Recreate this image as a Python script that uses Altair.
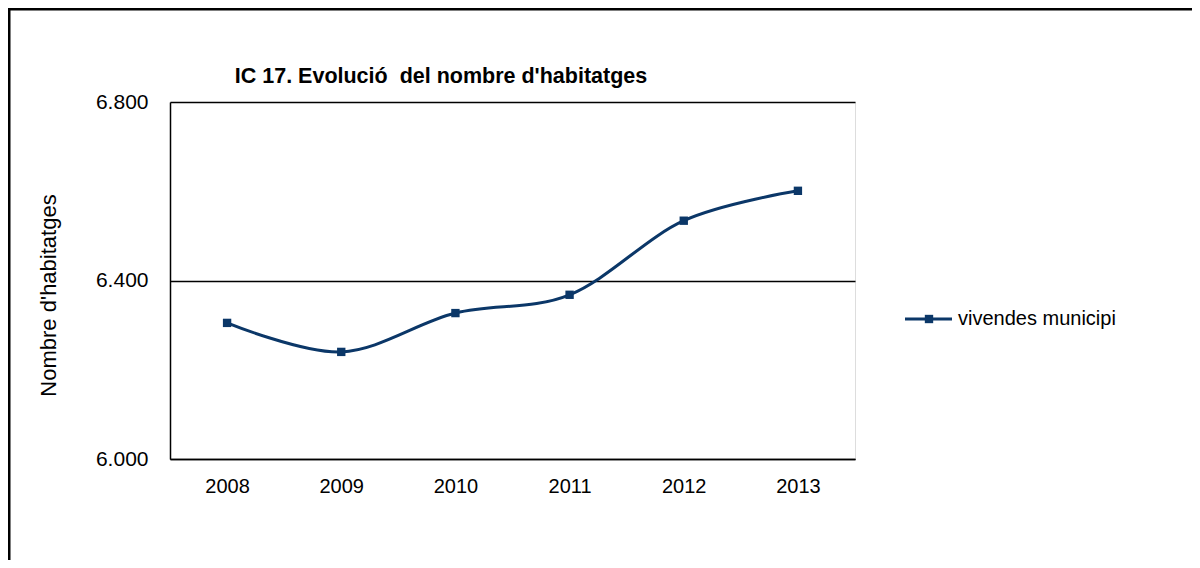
import altair as alt
import pandas as pd

years = ["2008", "2009", "2010", "2011", "2012", "2013"]
values = [6305, 6240, 6327, 6368, 6534, 6601]
series_name = "vivendes municipi"
y_ticks = [6000, 6400, 6800]
chart_title = "IC 17. Evolució\u00a0 del nombre d'habitatges"
y_title = "Nombre d'habitatges"

df = pd.DataFrame({"year": years, "value": values, "series": series_name})

W, H = 685, 357
LINE = "#0B3768"
FONT = "Liberation Sans"

x_enc = alt.X("year:O", scale=alt.Scale(type="point", padding=0.5),
              axis=alt.Axis(title=None, labelAngle=0, labelFontSize=20, labelFont=FONT,
                            labelColor="#000000", ticks=False, labelPadding=17,
                            domainColor="#000000", domainWidth=1.5, grid=False))
y_enc = alt.Y("value:Q", scale=alt.Scale(domain=[6000, 6800], nice=False, zero=False),
              axis=alt.Axis(values=y_ticks, title=y_title, titleFont=FONT, titleFontSize=22,
                            titleFontWeight="normal", titleColor="#000000",
                            titleX=-122, titleY=193, titleAngle=270, titleBaseline="middle",
                            titleAlign="center",
                            labelExpr="replace(format(datum.value, ',.0f'), ',', '.')",
                            labelFontSize=21, labelFont=FONT, labelColor="#000000",
                            ticks=False, labelPadding=22,
                            domainColor="#000000", domainWidth=1.5,
                            grid=True, gridColor="#000000", gridWidth=1.5))

base = alt.Chart(df)
line = base.mark_line(color=LINE, strokeWidth=3, interpolate="cardinal").encode(x=x_enc, y=y_enc)
pts = base.mark_square(color=LINE, size=70, opacity=1).encode(x="year:O", y="value:Q")

title_mark = alt.Chart(pd.DataFrame({"t": [chart_title]})).mark_text(
    font=FONT, fontSize=21.5, fontWeight="bold", color="#000000", align="center", baseline="middle"
).encode(text="t:N", x=alt.value(271), y=alt.value(-25))

leg_df = pd.DataFrame({"s": [series_name]})
leg_line = alt.Chart(leg_df).mark_rule(color=LINE, strokeWidth=3).encode(
    x=alt.value(735), x2=alt.value(782), y=alt.value(217))
leg_pt = alt.Chart(leg_df).mark_square(color=LINE, size=70, opacity=1).encode(
    x=alt.value(759), y=alt.value(217))
leg_txt = alt.Chart(leg_df).mark_text(font=FONT, fontSize=20, color="#000000", align="left",
                                      baseline="middle").encode(
    text="s:N", x=alt.value(788), y=alt.value(217))

frame_top = alt.Chart(leg_df).mark_rule(color="#000000", strokeWidth=3).encode(
    x=alt.value(-162), x2=alt.value(1022), y=alt.value(-93))
frame_left = alt.Chart(leg_df).mark_rule(color="#000000", strokeWidth=3).encode(
    x=alt.value(-161), y=alt.value(-94), y2=alt.value(460))

chart = alt.layer(line, pts, title_mark, leg_line, leg_pt, leg_txt, frame_top, frame_left).properties(
    width=W, height=H,
    autosize=alt.AutoSizeParams(type="none"),
    padding={"left": 162, "top": 94, "right": 337, "bottom": 101},
).configure_view(stroke="#808080", strokeWidth=1.5).configure(background="white")

chart.save("out.html", embed_options={"renderer": "svg", "actions": False})
